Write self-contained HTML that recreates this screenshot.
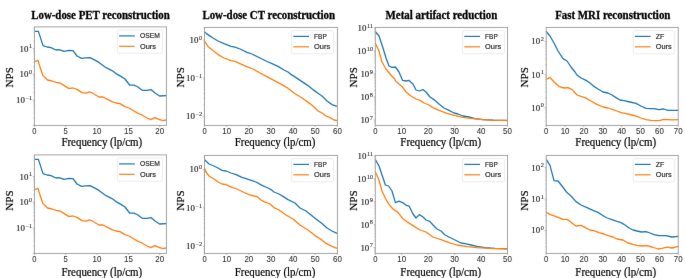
<!DOCTYPE html><html><head><meta charset="utf-8"><style>html,body{margin:0;padding:0;background:#fff;overflow:hidden}svg{display:block;will-change:transform}.ser{font-family:"Liberation Serif",serif}.san{font-family:"Liberation Sans",sans-serif}</style></head><body>
<svg width="685" height="278" viewBox="0 0 685 278">
<defs><filter id="soft" x="0" y="0" width="685" height="278" filterUnits="userSpaceOnUse" color-interpolation-filters="sRGB"><feConvolveMatrix order="3" kernelMatrix="0.00276 0.04704 0.00276 0.04704 0.80077 0.04704 0.00276 0.04704 0.00276" divisor="1" edgeMode="duplicate" preserveAlpha="true"/></filter></defs>
<rect width="685" height="278" fill="#fff"/>
<g filter="url(#soft)">
<rect width="685" height="278" fill="#fff"/>
<text class="ser" transform="translate(100.50,19.00) scale(0.9091,1)" font-size="11.99" text-anchor="middle" fill="#000" font-weight="bold" stroke="#000" stroke-width="0.3">Low-dose PET reconstruction</text>
<clipPath id="c00"><rect x="34.4" y="26.9" width="132.0" height="98.5"/></clipPath>
<g clip-path="url(#c00)">
<polyline points="34.4,31.4 38.4,31.4 43.0,45.6 47.0,47.0 51.0,47.6 56.0,50.0 59.0,49.6 64.0,51.4 69.0,50.4 73.0,50.6 77.0,56.0 81.6,58.4 86.0,57.8 90.0,57.6 94.0,59.6 99.0,62.4 105.0,67.0 108.0,68.6 112.0,70.6 116.0,73.6 121.0,76.4 125.0,79.0 129.6,85.0 134.0,85.2 138.0,87.0 142.4,90.4 147.0,90.4 151.0,89.6 155.0,93.0 159.6,96.0 166.0,95.6" fill="none" stroke="#1f77b4" stroke-width="1.3" stroke-linejoin="round" stroke-linecap="butt"/>
<polyline points="34.4,61.6 38.0,60.4 41.6,72.0 43.0,75.6 47.6,80.0 52.0,81.0 56.0,82.4 60.0,83.0 64.0,85.4 68.6,88.4 73.0,88.0 77.0,89.4 82.0,92.6 86.0,93.2 90.0,91.8 94.0,94.0 99.0,97.0 103.0,97.0 108.0,99.6 112.0,101.6 116.0,103.0 120.0,103.6 125.0,106.6 129.0,108.0 134.0,111.0 138.0,113.4 142.0,115.0 147.0,118.0 151.0,119.6 155.0,117.6 159.0,119.4 163.0,120.6 166.0,120.0" fill="none" stroke="#ff7f0e" stroke-width="1.3" stroke-linejoin="round" stroke-linecap="butt"/>
</g>
<rect x="34.4" y="26.9" width="132.0" height="98.5" fill="none" stroke="#9a9a9a" stroke-width="0.9"/>
<line x1="34.4" y1="125.4" x2="34.4" y2="127.0" stroke="#9a9a9a" stroke-width="0.7"/>
<text class="san" x="34.4" y="134.0" font-size="8.2" text-anchor="middle" fill="#2a2a2a" stroke="#2a2a2a" stroke-width="0.06" textLength="4.25" lengthAdjust="spacingAndGlyphs">0</text>
<line x1="65.7" y1="125.4" x2="65.7" y2="127.0" stroke="#9a9a9a" stroke-width="0.7"/>
<text class="san" x="65.7" y="134.0" font-size="8.2" text-anchor="middle" fill="#2a2a2a" stroke="#2a2a2a" stroke-width="0.06" textLength="4.25" lengthAdjust="spacingAndGlyphs">5</text>
<line x1="97.0" y1="125.4" x2="97.0" y2="127.0" stroke="#9a9a9a" stroke-width="0.7"/>
<text class="san" x="97.0" y="134.0" font-size="8.2" text-anchor="middle" fill="#2a2a2a" stroke="#2a2a2a" stroke-width="0.06" textLength="8.80" lengthAdjust="spacingAndGlyphs">10</text>
<line x1="128.4" y1="125.4" x2="128.4" y2="127.0" stroke="#9a9a9a" stroke-width="0.7"/>
<text class="san" x="128.4" y="134.0" font-size="8.2" text-anchor="middle" fill="#2a2a2a" stroke="#2a2a2a" stroke-width="0.06" textLength="8.80" lengthAdjust="spacingAndGlyphs">15</text>
<line x1="159.7" y1="125.4" x2="159.7" y2="127.0" stroke="#9a9a9a" stroke-width="0.7"/>
<text class="san" x="159.7" y="134.0" font-size="8.2" text-anchor="middle" fill="#2a2a2a" stroke="#2a2a2a" stroke-width="0.06" textLength="8.80" lengthAdjust="spacingAndGlyphs">20</text>
<line x1="32.8" y1="125.7" x2="34.4" y2="125.7" stroke="#9a9a9a" stroke-width="0.7"/>
<line x1="33.4" y1="118.0" x2="34.4" y2="118.0" stroke="#9a9a9a" stroke-width="0.5"/>
<line x1="33.4" y1="113.4" x2="34.4" y2="113.4" stroke="#9a9a9a" stroke-width="0.5"/>
<line x1="33.4" y1="110.2" x2="34.4" y2="110.2" stroke="#9a9a9a" stroke-width="0.5"/>
<line x1="33.4" y1="107.7" x2="34.4" y2="107.7" stroke="#9a9a9a" stroke-width="0.5"/>
<line x1="33.4" y1="105.7" x2="34.4" y2="105.7" stroke="#9a9a9a" stroke-width="0.5"/>
<line x1="33.4" y1="104.0" x2="34.4" y2="104.0" stroke="#9a9a9a" stroke-width="0.5"/>
<line x1="33.4" y1="102.5" x2="34.4" y2="102.5" stroke="#9a9a9a" stroke-width="0.5"/>
<line x1="33.4" y1="101.2" x2="34.4" y2="101.2" stroke="#9a9a9a" stroke-width="0.5"/>
<line x1="32.8" y1="100.0" x2="34.4" y2="100.0" stroke="#9a9a9a" stroke-width="0.7"/>
<line x1="33.4" y1="92.3" x2="34.4" y2="92.3" stroke="#9a9a9a" stroke-width="0.5"/>
<line x1="33.4" y1="87.7" x2="34.4" y2="87.7" stroke="#9a9a9a" stroke-width="0.5"/>
<line x1="33.4" y1="84.5" x2="34.4" y2="84.5" stroke="#9a9a9a" stroke-width="0.5"/>
<line x1="33.4" y1="82.0" x2="34.4" y2="82.0" stroke="#9a9a9a" stroke-width="0.5"/>
<line x1="33.4" y1="80.0" x2="34.4" y2="80.0" stroke="#9a9a9a" stroke-width="0.5"/>
<line x1="33.4" y1="78.3" x2="34.4" y2="78.3" stroke="#9a9a9a" stroke-width="0.5"/>
<line x1="33.4" y1="76.8" x2="34.4" y2="76.8" stroke="#9a9a9a" stroke-width="0.5"/>
<line x1="33.4" y1="75.5" x2="34.4" y2="75.5" stroke="#9a9a9a" stroke-width="0.5"/>
<line x1="32.8" y1="74.3" x2="34.4" y2="74.3" stroke="#9a9a9a" stroke-width="0.7"/>
<line x1="33.4" y1="66.6" x2="34.4" y2="66.6" stroke="#9a9a9a" stroke-width="0.5"/>
<line x1="33.4" y1="62.0" x2="34.4" y2="62.0" stroke="#9a9a9a" stroke-width="0.5"/>
<line x1="33.4" y1="58.8" x2="34.4" y2="58.8" stroke="#9a9a9a" stroke-width="0.5"/>
<line x1="33.4" y1="56.3" x2="34.4" y2="56.3" stroke="#9a9a9a" stroke-width="0.5"/>
<line x1="33.4" y1="54.3" x2="34.4" y2="54.3" stroke="#9a9a9a" stroke-width="0.5"/>
<line x1="33.4" y1="52.6" x2="34.4" y2="52.6" stroke="#9a9a9a" stroke-width="0.5"/>
<line x1="33.4" y1="51.1" x2="34.4" y2="51.1" stroke="#9a9a9a" stroke-width="0.5"/>
<line x1="33.4" y1="49.8" x2="34.4" y2="49.8" stroke="#9a9a9a" stroke-width="0.5"/>
<line x1="32.8" y1="48.6" x2="34.4" y2="48.6" stroke="#9a9a9a" stroke-width="0.7"/>
<line x1="33.4" y1="40.9" x2="34.4" y2="40.9" stroke="#9a9a9a" stroke-width="0.5"/>
<line x1="33.4" y1="36.3" x2="34.4" y2="36.3" stroke="#9a9a9a" stroke-width="0.5"/>
<line x1="33.4" y1="33.1" x2="34.4" y2="33.1" stroke="#9a9a9a" stroke-width="0.5"/>
<line x1="33.4" y1="30.6" x2="34.4" y2="30.6" stroke="#9a9a9a" stroke-width="0.5"/>
<line x1="33.4" y1="28.6" x2="34.4" y2="28.6" stroke="#9a9a9a" stroke-width="0.5"/>
<text class="ser" transform="translate(32.10,51.50) scale(1.08,1)" font-size="8.2" text-anchor="end" fill="#222" stroke="#222" stroke-width="0.15">10<tspan font-size="5.8" dx="0.6" dy="-3.2" stroke-width="0.08">1</tspan></text>
<text class="ser" transform="translate(32.10,77.20) scale(1.08,1)" font-size="8.2" text-anchor="end" fill="#222" stroke="#222" stroke-width="0.15">10<tspan font-size="5.8" dx="0.6" dy="-3.2" stroke-width="0.08">0</tspan></text>
<text class="ser" transform="translate(32.10,102.90) scale(1.08,1)" font-size="8.2" text-anchor="end" fill="#222" stroke="#222" stroke-width="0.15">10<tspan font-size="5.8" dx="0.6" dy="-3.2" stroke-width="0.08">−1</tspan></text>
<text class="ser" transform="translate(101.80,145.60) scale(0.9259,1)" font-size="11.77" text-anchor="middle" fill="#000" stroke="#000" stroke-width="0.2">Frequency (lp/cm)</text>
<text class="ser" transform="translate(12.9,77.3) rotate(-90)" x="0" y="0" font-size="11.1" text-anchor="middle" fill="#000" stroke="#000" stroke-width="0.2">NPS</text>
<rect x="117.4" y="30.1" width="45.1" height="23.2" rx="1.5" fill="#fff" fill-opacity="0.8" stroke="#e4e4e4" stroke-width="0.7"/>
<line x1="119.10000000000001" y1="35.9" x2="134.8" y2="35.9" stroke="#1f77b4" stroke-width="1.2"/>
<line x1="119.10000000000001" y1="46.3" x2="134.8" y2="46.3" stroke="#ff7f0e" stroke-width="1.2"/>
<text class="san" x="139.9" y="38.4" font-size="7.9" fill="#222" stroke="#222" stroke-width="0.18" textLength="19.9" lengthAdjust="spacingAndGlyphs">OSEM</text>
<text class="san" x="139.9" y="48.8" font-size="7.9" fill="#222" stroke="#222" stroke-width="0.18" textLength="16.0" lengthAdjust="spacingAndGlyphs">Ours</text>
<clipPath id="c10"><rect x="34.4" y="154.9" width="132.0" height="98.5"/></clipPath>
<g clip-path="url(#c10)">
<polyline points="34.4,159.4 38.4,159.4 43.0,173.6 47.0,175.0 51.0,175.6 56.0,178.0 59.0,177.6 64.0,179.4 69.0,178.4 73.0,178.6 77.0,184.0 81.6,186.4 86.0,185.8 90.0,185.6 94.0,187.6 99.0,190.4 105.0,195.0 108.0,196.6 112.0,198.6 116.0,201.6 121.0,204.4 125.0,207.0 129.6,213.0 134.0,213.2 138.0,215.0 142.4,218.4 147.0,218.4 151.0,217.6 155.0,221.0 159.6,224.0 166.0,223.6" fill="none" stroke="#1f77b4" stroke-width="1.3" stroke-linejoin="round" stroke-linecap="butt"/>
<polyline points="34.4,189.6 38.0,188.4 41.6,200.0 43.0,203.6 47.6,208.0 52.0,209.0 56.0,210.4 60.0,211.0 64.0,213.4 68.6,216.4 73.0,216.0 77.0,217.4 82.0,220.6 86.0,221.2 90.0,219.8 94.0,222.0 99.0,225.0 103.0,225.0 108.0,227.6 112.0,229.6 116.0,231.0 120.0,231.6 125.0,234.6 129.0,236.0 134.0,239.0 138.0,241.4 142.0,243.0 147.0,246.0 151.0,247.6 155.0,245.6 159.0,247.4 163.0,248.6 166.0,248.0" fill="none" stroke="#ff7f0e" stroke-width="1.3" stroke-linejoin="round" stroke-linecap="butt"/>
</g>
<rect x="34.4" y="154.9" width="132.0" height="98.5" fill="none" stroke="#9a9a9a" stroke-width="0.9"/>
<line x1="34.4" y1="253.4" x2="34.4" y2="255.0" stroke="#9a9a9a" stroke-width="0.7"/>
<text class="san" x="34.4" y="262.0" font-size="8.2" text-anchor="middle" fill="#2a2a2a" stroke="#2a2a2a" stroke-width="0.06" textLength="4.25" lengthAdjust="spacingAndGlyphs">0</text>
<line x1="65.7" y1="253.4" x2="65.7" y2="255.0" stroke="#9a9a9a" stroke-width="0.7"/>
<text class="san" x="65.7" y="262.0" font-size="8.2" text-anchor="middle" fill="#2a2a2a" stroke="#2a2a2a" stroke-width="0.06" textLength="4.25" lengthAdjust="spacingAndGlyphs">5</text>
<line x1="97.0" y1="253.4" x2="97.0" y2="255.0" stroke="#9a9a9a" stroke-width="0.7"/>
<text class="san" x="97.0" y="262.0" font-size="8.2" text-anchor="middle" fill="#2a2a2a" stroke="#2a2a2a" stroke-width="0.06" textLength="8.80" lengthAdjust="spacingAndGlyphs">10</text>
<line x1="128.4" y1="253.4" x2="128.4" y2="255.0" stroke="#9a9a9a" stroke-width="0.7"/>
<text class="san" x="128.4" y="262.0" font-size="8.2" text-anchor="middle" fill="#2a2a2a" stroke="#2a2a2a" stroke-width="0.06" textLength="8.80" lengthAdjust="spacingAndGlyphs">15</text>
<line x1="159.7" y1="253.4" x2="159.7" y2="255.0" stroke="#9a9a9a" stroke-width="0.7"/>
<text class="san" x="159.7" y="262.0" font-size="8.2" text-anchor="middle" fill="#2a2a2a" stroke="#2a2a2a" stroke-width="0.06" textLength="8.80" lengthAdjust="spacingAndGlyphs">20</text>
<line x1="32.8" y1="253.7" x2="34.4" y2="253.7" stroke="#9a9a9a" stroke-width="0.7"/>
<line x1="33.4" y1="246.0" x2="34.4" y2="246.0" stroke="#9a9a9a" stroke-width="0.5"/>
<line x1="33.4" y1="241.4" x2="34.4" y2="241.4" stroke="#9a9a9a" stroke-width="0.5"/>
<line x1="33.4" y1="238.2" x2="34.4" y2="238.2" stroke="#9a9a9a" stroke-width="0.5"/>
<line x1="33.4" y1="235.7" x2="34.4" y2="235.7" stroke="#9a9a9a" stroke-width="0.5"/>
<line x1="33.4" y1="233.7" x2="34.4" y2="233.7" stroke="#9a9a9a" stroke-width="0.5"/>
<line x1="33.4" y1="232.0" x2="34.4" y2="232.0" stroke="#9a9a9a" stroke-width="0.5"/>
<line x1="33.4" y1="230.5" x2="34.4" y2="230.5" stroke="#9a9a9a" stroke-width="0.5"/>
<line x1="33.4" y1="229.2" x2="34.4" y2="229.2" stroke="#9a9a9a" stroke-width="0.5"/>
<line x1="32.8" y1="228.0" x2="34.4" y2="228.0" stroke="#9a9a9a" stroke-width="0.7"/>
<line x1="33.4" y1="220.3" x2="34.4" y2="220.3" stroke="#9a9a9a" stroke-width="0.5"/>
<line x1="33.4" y1="215.7" x2="34.4" y2="215.7" stroke="#9a9a9a" stroke-width="0.5"/>
<line x1="33.4" y1="212.5" x2="34.4" y2="212.5" stroke="#9a9a9a" stroke-width="0.5"/>
<line x1="33.4" y1="210.0" x2="34.4" y2="210.0" stroke="#9a9a9a" stroke-width="0.5"/>
<line x1="33.4" y1="208.0" x2="34.4" y2="208.0" stroke="#9a9a9a" stroke-width="0.5"/>
<line x1="33.4" y1="206.3" x2="34.4" y2="206.3" stroke="#9a9a9a" stroke-width="0.5"/>
<line x1="33.4" y1="204.8" x2="34.4" y2="204.8" stroke="#9a9a9a" stroke-width="0.5"/>
<line x1="33.4" y1="203.5" x2="34.4" y2="203.5" stroke="#9a9a9a" stroke-width="0.5"/>
<line x1="32.8" y1="202.3" x2="34.4" y2="202.3" stroke="#9a9a9a" stroke-width="0.7"/>
<line x1="33.4" y1="194.6" x2="34.4" y2="194.6" stroke="#9a9a9a" stroke-width="0.5"/>
<line x1="33.4" y1="190.0" x2="34.4" y2="190.0" stroke="#9a9a9a" stroke-width="0.5"/>
<line x1="33.4" y1="186.8" x2="34.4" y2="186.8" stroke="#9a9a9a" stroke-width="0.5"/>
<line x1="33.4" y1="184.3" x2="34.4" y2="184.3" stroke="#9a9a9a" stroke-width="0.5"/>
<line x1="33.4" y1="182.3" x2="34.4" y2="182.3" stroke="#9a9a9a" stroke-width="0.5"/>
<line x1="33.4" y1="180.6" x2="34.4" y2="180.6" stroke="#9a9a9a" stroke-width="0.5"/>
<line x1="33.4" y1="179.1" x2="34.4" y2="179.1" stroke="#9a9a9a" stroke-width="0.5"/>
<line x1="33.4" y1="177.8" x2="34.4" y2="177.8" stroke="#9a9a9a" stroke-width="0.5"/>
<line x1="32.8" y1="176.6" x2="34.4" y2="176.6" stroke="#9a9a9a" stroke-width="0.7"/>
<line x1="33.4" y1="168.9" x2="34.4" y2="168.9" stroke="#9a9a9a" stroke-width="0.5"/>
<line x1="33.4" y1="164.3" x2="34.4" y2="164.3" stroke="#9a9a9a" stroke-width="0.5"/>
<line x1="33.4" y1="161.1" x2="34.4" y2="161.1" stroke="#9a9a9a" stroke-width="0.5"/>
<line x1="33.4" y1="158.6" x2="34.4" y2="158.6" stroke="#9a9a9a" stroke-width="0.5"/>
<line x1="33.4" y1="156.6" x2="34.4" y2="156.6" stroke="#9a9a9a" stroke-width="0.5"/>
<text class="ser" transform="translate(32.10,179.50) scale(1.08,1)" font-size="8.2" text-anchor="end" fill="#222" stroke="#222" stroke-width="0.15">10<tspan font-size="5.8" dx="0.6" dy="-3.2" stroke-width="0.08">1</tspan></text>
<text class="ser" transform="translate(32.10,205.20) scale(1.08,1)" font-size="8.2" text-anchor="end" fill="#222" stroke="#222" stroke-width="0.15">10<tspan font-size="5.8" dx="0.6" dy="-3.2" stroke-width="0.08">0</tspan></text>
<text class="ser" transform="translate(32.10,230.90) scale(1.08,1)" font-size="8.2" text-anchor="end" fill="#222" stroke="#222" stroke-width="0.15">10<tspan font-size="5.8" dx="0.6" dy="-3.2" stroke-width="0.08">−1</tspan></text>
<text class="ser" transform="translate(101.80,275.70) scale(0.9259,1)" font-size="11.77" text-anchor="middle" fill="#000" stroke="#000" stroke-width="0.2">Frequency (lp/cm)</text>
<text class="ser" transform="translate(12.9,200.5) rotate(-90)" x="0" y="0" font-size="11.1" text-anchor="middle" fill="#000" stroke="#000" stroke-width="0.2">NPS</text>
<rect x="117.4" y="158.1" width="45.1" height="23.2" rx="1.5" fill="#fff" fill-opacity="0.8" stroke="#e4e4e4" stroke-width="0.7"/>
<line x1="119.10000000000001" y1="163.9" x2="134.8" y2="163.9" stroke="#1f77b4" stroke-width="1.2"/>
<line x1="119.10000000000001" y1="174.3" x2="134.8" y2="174.3" stroke="#ff7f0e" stroke-width="1.2"/>
<text class="san" x="139.9" y="166.4" font-size="7.9" fill="#222" stroke="#222" stroke-width="0.18" textLength="19.9" lengthAdjust="spacingAndGlyphs">OSEM</text>
<text class="san" x="139.9" y="176.8" font-size="7.9" fill="#222" stroke="#222" stroke-width="0.18" textLength="16.0" lengthAdjust="spacingAndGlyphs">Ours</text>
<text class="ser" transform="translate(268.70,19.00) scale(0.9091,1)" font-size="11.99" text-anchor="middle" fill="#000" font-weight="bold" stroke="#000" stroke-width="0.3">Low-dose CT reconstruction</text>
<clipPath id="c01"><rect x="204.5" y="27.4" width="132.9" height="98.0"/></clipPath>
<g clip-path="url(#c01)">
<polyline points="204.4,31.6 206.5,33.6 209.0,35.4 213.0,38.0 218.0,41.0 224.0,43.6 231.0,46.4 235.0,47.1 240.0,49.0 247.0,52.3 252.0,54.0 260.0,58.0 266.0,61.0 272.0,63.6 278.0,66.4 284.0,70.0 288.0,72.0 291.0,74.4 296.0,77.6 302.0,81.6 308.0,85.6 314.0,90.4 319.0,94.0 322.0,96.0 327.0,101.0 332.0,104.6 337.0,106.4" fill="none" stroke="#1f77b4" stroke-width="1.3" stroke-linejoin="round" stroke-linecap="butt"/>
<polyline points="204.4,41.0 208.0,46.4 213.0,50.6 218.0,54.6 224.0,58.0 231.0,60.6 235.0,61.4 240.0,63.6 246.0,66.4 253.0,69.0 260.0,73.0 265.0,75.6 272.0,79.4 280.0,83.6 287.0,87.6 294.0,93.0 302.0,98.0 310.0,103.6 314.0,107.0 318.0,111.0 322.0,113.0 326.0,116.0 330.0,117.6 334.0,120.0 337.0,120.6" fill="none" stroke="#ff7f0e" stroke-width="1.3" stroke-linejoin="round" stroke-linecap="butt"/>
</g>
<rect x="204.5" y="27.4" width="132.9" height="98.0" fill="none" stroke="#9a9a9a" stroke-width="0.9"/>
<line x1="204.5" y1="125.4" x2="204.5" y2="127.0" stroke="#9a9a9a" stroke-width="0.7"/>
<text class="san" x="204.5" y="134.0" font-size="8.2" text-anchor="middle" fill="#2a2a2a" stroke="#2a2a2a" stroke-width="0.06" textLength="4.25" lengthAdjust="spacingAndGlyphs">0</text>
<line x1="226.7" y1="125.4" x2="226.7" y2="127.0" stroke="#9a9a9a" stroke-width="0.7"/>
<text class="san" x="226.7" y="134.0" font-size="8.2" text-anchor="middle" fill="#2a2a2a" stroke="#2a2a2a" stroke-width="0.06" textLength="8.80" lengthAdjust="spacingAndGlyphs">10</text>
<line x1="248.8" y1="125.4" x2="248.8" y2="127.0" stroke="#9a9a9a" stroke-width="0.7"/>
<text class="san" x="248.8" y="134.0" font-size="8.2" text-anchor="middle" fill="#2a2a2a" stroke="#2a2a2a" stroke-width="0.06" textLength="8.80" lengthAdjust="spacingAndGlyphs">20</text>
<line x1="270.9" y1="125.4" x2="270.9" y2="127.0" stroke="#9a9a9a" stroke-width="0.7"/>
<text class="san" x="270.9" y="134.0" font-size="8.2" text-anchor="middle" fill="#2a2a2a" stroke="#2a2a2a" stroke-width="0.06" textLength="8.80" lengthAdjust="spacingAndGlyphs">30</text>
<line x1="293.1" y1="125.4" x2="293.1" y2="127.0" stroke="#9a9a9a" stroke-width="0.7"/>
<text class="san" x="293.1" y="134.0" font-size="8.2" text-anchor="middle" fill="#2a2a2a" stroke="#2a2a2a" stroke-width="0.06" textLength="8.80" lengthAdjust="spacingAndGlyphs">40</text>
<line x1="315.2" y1="125.4" x2="315.2" y2="127.0" stroke="#9a9a9a" stroke-width="0.7"/>
<text class="san" x="315.2" y="134.0" font-size="8.2" text-anchor="middle" fill="#2a2a2a" stroke="#2a2a2a" stroke-width="0.06" textLength="8.80" lengthAdjust="spacingAndGlyphs">50</text>
<line x1="337.4" y1="125.4" x2="337.4" y2="127.0" stroke="#9a9a9a" stroke-width="0.7"/>
<text class="san" x="337.4" y="134.0" font-size="8.2" text-anchor="middle" fill="#2a2a2a" stroke="#2a2a2a" stroke-width="0.06" textLength="8.80" lengthAdjust="spacingAndGlyphs">60</text>
<line x1="203.5" y1="124.6" x2="204.5" y2="124.6" stroke="#9a9a9a" stroke-width="0.5"/>
<line x1="203.5" y1="122.1" x2="204.5" y2="122.1" stroke="#9a9a9a" stroke-width="0.5"/>
<line x1="203.5" y1="119.9" x2="204.5" y2="119.9" stroke="#9a9a9a" stroke-width="0.5"/>
<line x1="203.5" y1="117.9" x2="204.5" y2="117.9" stroke="#9a9a9a" stroke-width="0.5"/>
<line x1="202.9" y1="116.2" x2="204.5" y2="116.2" stroke="#9a9a9a" stroke-width="0.7"/>
<line x1="203.5" y1="104.7" x2="204.5" y2="104.7" stroke="#9a9a9a" stroke-width="0.5"/>
<line x1="203.5" y1="98.0" x2="204.5" y2="98.0" stroke="#9a9a9a" stroke-width="0.5"/>
<line x1="203.5" y1="93.3" x2="204.5" y2="93.3" stroke="#9a9a9a" stroke-width="0.5"/>
<line x1="203.5" y1="89.6" x2="204.5" y2="89.6" stroke="#9a9a9a" stroke-width="0.5"/>
<line x1="203.5" y1="86.6" x2="204.5" y2="86.6" stroke="#9a9a9a" stroke-width="0.5"/>
<line x1="203.5" y1="84.0" x2="204.5" y2="84.0" stroke="#9a9a9a" stroke-width="0.5"/>
<line x1="203.5" y1="81.8" x2="204.5" y2="81.8" stroke="#9a9a9a" stroke-width="0.5"/>
<line x1="203.5" y1="79.9" x2="204.5" y2="79.9" stroke="#9a9a9a" stroke-width="0.5"/>
<line x1="202.9" y1="78.2" x2="204.5" y2="78.2" stroke="#9a9a9a" stroke-width="0.7"/>
<line x1="203.5" y1="66.7" x2="204.5" y2="66.7" stroke="#9a9a9a" stroke-width="0.5"/>
<line x1="203.5" y1="60.0" x2="204.5" y2="60.0" stroke="#9a9a9a" stroke-width="0.5"/>
<line x1="203.5" y1="55.2" x2="204.5" y2="55.2" stroke="#9a9a9a" stroke-width="0.5"/>
<line x1="203.5" y1="51.6" x2="204.5" y2="51.6" stroke="#9a9a9a" stroke-width="0.5"/>
<line x1="203.5" y1="48.5" x2="204.5" y2="48.5" stroke="#9a9a9a" stroke-width="0.5"/>
<line x1="203.5" y1="46.0" x2="204.5" y2="46.0" stroke="#9a9a9a" stroke-width="0.5"/>
<line x1="203.5" y1="43.8" x2="204.5" y2="43.8" stroke="#9a9a9a" stroke-width="0.5"/>
<line x1="203.5" y1="41.8" x2="204.5" y2="41.8" stroke="#9a9a9a" stroke-width="0.5"/>
<line x1="202.9" y1="40.1" x2="204.5" y2="40.1" stroke="#9a9a9a" stroke-width="0.7"/>
<line x1="203.5" y1="28.6" x2="204.5" y2="28.6" stroke="#9a9a9a" stroke-width="0.5"/>
<text class="ser" transform="translate(202.20,43.00) scale(1.08,1)" font-size="8.2" text-anchor="end" fill="#222" stroke="#222" stroke-width="0.15">10<tspan font-size="5.8" dx="0.6" dy="-3.2" stroke-width="0.08">0</tspan></text>
<text class="ser" transform="translate(202.20,81.05) scale(1.08,1)" font-size="8.2" text-anchor="end" fill="#222" stroke="#222" stroke-width="0.15">10<tspan font-size="5.8" dx="0.6" dy="-3.2" stroke-width="0.08">−1</tspan></text>
<text class="ser" transform="translate(202.20,119.10) scale(1.08,1)" font-size="8.2" text-anchor="end" fill="#222" stroke="#222" stroke-width="0.15">10<tspan font-size="5.8" dx="0.6" dy="-3.2" stroke-width="0.08">−2</tspan></text>
<text class="ser" transform="translate(275.10,145.60) scale(0.9259,1)" font-size="11.77" text-anchor="middle" fill="#000" stroke="#000" stroke-width="0.2">Frequency (lp/cm)</text>
<text class="ser" transform="translate(183.8,77.3) rotate(-90)" x="0" y="0" font-size="11.1" text-anchor="middle" fill="#000" stroke="#000" stroke-width="0.2">NPS</text>
<rect x="291.6" y="30.6" width="41.8" height="23.2" rx="1.5" fill="#fff" fill-opacity="0.8" stroke="#e4e4e4" stroke-width="0.7"/>
<line x1="293.3" y1="36.4" x2="309.0" y2="36.4" stroke="#1f77b4" stroke-width="1.2"/>
<line x1="293.3" y1="46.8" x2="309.0" y2="46.8" stroke="#ff7f0e" stroke-width="1.2"/>
<text class="san" x="314.1" y="38.9" font-size="7.9" fill="#222" stroke="#222" stroke-width="0.18" textLength="12.7" lengthAdjust="spacingAndGlyphs">FBP</text>
<text class="san" x="314.1" y="49.3" font-size="7.9" fill="#222" stroke="#222" stroke-width="0.18" textLength="16.0" lengthAdjust="spacingAndGlyphs">Ours</text>
<clipPath id="c11"><rect x="204.5" y="155.4" width="132.9" height="98.0"/></clipPath>
<g clip-path="url(#c11)">
<polyline points="204.4,159.4 209.0,164.0 214.0,166.0 218.0,168.0 222.0,170.4 226.0,171.0 231.0,173.0 236.0,174.6 242.0,177.4 249.0,179.6 256.0,182.0 262.0,185.4 268.0,188.0 271.0,189.6 274.0,192.0 279.0,194.0 283.0,196.4 288.0,199.6 295.0,203.0 300.0,208.0 306.0,211.0 311.0,215.0 316.0,219.0 322.0,223.6 327.0,228.0 332.0,231.0 337.0,233.4" fill="none" stroke="#1f77b4" stroke-width="1.3" stroke-linejoin="round" stroke-linecap="butt"/>
<polyline points="204.4,168.0 206.0,172.0 209.0,176.0 214.0,179.0 218.0,182.0 222.0,184.0 226.0,184.6 232.0,187.4 237.0,189.0 243.0,192.0 249.0,194.6 254.0,196.0 257.0,196.6 261.0,200.0 264.0,201.6 270.0,204.0 274.0,207.6 279.0,210.0 286.0,215.0 293.0,219.0 300.0,225.0 308.0,230.0 315.0,235.6 322.0,240.0 326.0,243.4 332.0,246.4 337.0,248.4" fill="none" stroke="#ff7f0e" stroke-width="1.3" stroke-linejoin="round" stroke-linecap="butt"/>
</g>
<rect x="204.5" y="155.4" width="132.9" height="98.0" fill="none" stroke="#9a9a9a" stroke-width="0.9"/>
<line x1="204.5" y1="253.4" x2="204.5" y2="255.0" stroke="#9a9a9a" stroke-width="0.7"/>
<text class="san" x="204.5" y="262.0" font-size="8.2" text-anchor="middle" fill="#2a2a2a" stroke="#2a2a2a" stroke-width="0.06" textLength="4.25" lengthAdjust="spacingAndGlyphs">0</text>
<line x1="226.7" y1="253.4" x2="226.7" y2="255.0" stroke="#9a9a9a" stroke-width="0.7"/>
<text class="san" x="226.7" y="262.0" font-size="8.2" text-anchor="middle" fill="#2a2a2a" stroke="#2a2a2a" stroke-width="0.06" textLength="8.80" lengthAdjust="spacingAndGlyphs">10</text>
<line x1="248.8" y1="253.4" x2="248.8" y2="255.0" stroke="#9a9a9a" stroke-width="0.7"/>
<text class="san" x="248.8" y="262.0" font-size="8.2" text-anchor="middle" fill="#2a2a2a" stroke="#2a2a2a" stroke-width="0.06" textLength="8.80" lengthAdjust="spacingAndGlyphs">20</text>
<line x1="270.9" y1="253.4" x2="270.9" y2="255.0" stroke="#9a9a9a" stroke-width="0.7"/>
<text class="san" x="270.9" y="262.0" font-size="8.2" text-anchor="middle" fill="#2a2a2a" stroke="#2a2a2a" stroke-width="0.06" textLength="8.80" lengthAdjust="spacingAndGlyphs">30</text>
<line x1="293.1" y1="253.4" x2="293.1" y2="255.0" stroke="#9a9a9a" stroke-width="0.7"/>
<text class="san" x="293.1" y="262.0" font-size="8.2" text-anchor="middle" fill="#2a2a2a" stroke="#2a2a2a" stroke-width="0.06" textLength="8.80" lengthAdjust="spacingAndGlyphs">40</text>
<line x1="315.2" y1="253.4" x2="315.2" y2="255.0" stroke="#9a9a9a" stroke-width="0.7"/>
<text class="san" x="315.2" y="262.0" font-size="8.2" text-anchor="middle" fill="#2a2a2a" stroke="#2a2a2a" stroke-width="0.06" textLength="8.80" lengthAdjust="spacingAndGlyphs">50</text>
<line x1="337.4" y1="253.4" x2="337.4" y2="255.0" stroke="#9a9a9a" stroke-width="0.7"/>
<text class="san" x="337.4" y="262.0" font-size="8.2" text-anchor="middle" fill="#2a2a2a" stroke="#2a2a2a" stroke-width="0.06" textLength="8.80" lengthAdjust="spacingAndGlyphs">60</text>
<line x1="203.5" y1="252.4" x2="204.5" y2="252.4" stroke="#9a9a9a" stroke-width="0.5"/>
<line x1="203.5" y1="250.1" x2="204.5" y2="250.1" stroke="#9a9a9a" stroke-width="0.5"/>
<line x1="203.5" y1="248.2" x2="204.5" y2="248.2" stroke="#9a9a9a" stroke-width="0.5"/>
<line x1="202.9" y1="246.4" x2="204.5" y2="246.4" stroke="#9a9a9a" stroke-width="0.7"/>
<line x1="203.5" y1="234.8" x2="204.5" y2="234.8" stroke="#9a9a9a" stroke-width="0.5"/>
<line x1="203.5" y1="228.0" x2="204.5" y2="228.0" stroke="#9a9a9a" stroke-width="0.5"/>
<line x1="203.5" y1="223.2" x2="204.5" y2="223.2" stroke="#9a9a9a" stroke-width="0.5"/>
<line x1="203.5" y1="219.5" x2="204.5" y2="219.5" stroke="#9a9a9a" stroke-width="0.5"/>
<line x1="203.5" y1="216.4" x2="204.5" y2="216.4" stroke="#9a9a9a" stroke-width="0.5"/>
<line x1="203.5" y1="213.9" x2="204.5" y2="213.9" stroke="#9a9a9a" stroke-width="0.5"/>
<line x1="203.5" y1="211.6" x2="204.5" y2="211.6" stroke="#9a9a9a" stroke-width="0.5"/>
<line x1="203.5" y1="209.7" x2="204.5" y2="209.7" stroke="#9a9a9a" stroke-width="0.5"/>
<line x1="202.9" y1="207.9" x2="204.5" y2="207.9" stroke="#9a9a9a" stroke-width="0.7"/>
<line x1="203.5" y1="196.3" x2="204.5" y2="196.3" stroke="#9a9a9a" stroke-width="0.5"/>
<line x1="203.5" y1="189.5" x2="204.5" y2="189.5" stroke="#9a9a9a" stroke-width="0.5"/>
<line x1="203.5" y1="184.7" x2="204.5" y2="184.7" stroke="#9a9a9a" stroke-width="0.5"/>
<line x1="203.5" y1="181.0" x2="204.5" y2="181.0" stroke="#9a9a9a" stroke-width="0.5"/>
<line x1="203.5" y1="177.9" x2="204.5" y2="177.9" stroke="#9a9a9a" stroke-width="0.5"/>
<line x1="203.5" y1="175.4" x2="204.5" y2="175.4" stroke="#9a9a9a" stroke-width="0.5"/>
<line x1="203.5" y1="173.1" x2="204.5" y2="173.1" stroke="#9a9a9a" stroke-width="0.5"/>
<line x1="203.5" y1="171.2" x2="204.5" y2="171.2" stroke="#9a9a9a" stroke-width="0.5"/>
<line x1="202.9" y1="169.4" x2="204.5" y2="169.4" stroke="#9a9a9a" stroke-width="0.7"/>
<line x1="203.5" y1="157.8" x2="204.5" y2="157.8" stroke="#9a9a9a" stroke-width="0.5"/>
<text class="ser" transform="translate(202.20,172.30) scale(1.08,1)" font-size="8.2" text-anchor="end" fill="#222" stroke="#222" stroke-width="0.15">10<tspan font-size="5.8" dx="0.6" dy="-3.2" stroke-width="0.08">0</tspan></text>
<text class="ser" transform="translate(202.20,210.80) scale(1.08,1)" font-size="8.2" text-anchor="end" fill="#222" stroke="#222" stroke-width="0.15">10<tspan font-size="5.8" dx="0.6" dy="-3.2" stroke-width="0.08">−1</tspan></text>
<text class="ser" transform="translate(202.20,249.30) scale(1.08,1)" font-size="8.2" text-anchor="end" fill="#222" stroke="#222" stroke-width="0.15">10<tspan font-size="5.8" dx="0.6" dy="-3.2" stroke-width="0.08">−2</tspan></text>
<text class="ser" transform="translate(275.10,275.70) scale(0.9259,1)" font-size="11.77" text-anchor="middle" fill="#000" stroke="#000" stroke-width="0.2">Frequency (lp/cm)</text>
<text class="ser" transform="translate(183.8,200.5) rotate(-90)" x="0" y="0" font-size="11.1" text-anchor="middle" fill="#000" stroke="#000" stroke-width="0.2">NPS</text>
<rect x="291.6" y="158.6" width="41.8" height="23.2" rx="1.5" fill="#fff" fill-opacity="0.8" stroke="#e4e4e4" stroke-width="0.7"/>
<line x1="293.3" y1="164.4" x2="309.0" y2="164.4" stroke="#1f77b4" stroke-width="1.2"/>
<line x1="293.3" y1="174.8" x2="309.0" y2="174.8" stroke="#ff7f0e" stroke-width="1.2"/>
<text class="san" x="314.1" y="166.9" font-size="7.9" fill="#222" stroke="#222" stroke-width="0.18" textLength="12.7" lengthAdjust="spacingAndGlyphs">FBP</text>
<text class="san" x="314.1" y="177.3" font-size="7.9" fill="#222" stroke="#222" stroke-width="0.18" textLength="16.0" lengthAdjust="spacingAndGlyphs">Ours</text>
<text class="ser" transform="translate(441.40,19.00) scale(0.9091,1)" font-size="11.99" text-anchor="middle" fill="#000" font-weight="bold" stroke="#000" stroke-width="0.3">Metal artifact reduction</text>
<clipPath id="c02"><rect x="375.3" y="27.4" width="132.2" height="98.0"/></clipPath>
<g clip-path="url(#c02)">
<polyline points="375.2,31.4 379.0,36.0 383.0,48.0 386.0,58.0 389.0,66.0 392.0,67.4 395.4,67.0 399.0,72.0 402.6,80.4 406.0,81.0 409.0,80.4 413.0,84.0 416.0,90.0 419.4,91.0 423.0,89.6 426.0,92.0 430.0,97.0 434.0,99.6 439.0,104.0 444.0,108.0 449.0,110.4 454.0,113.0 458.0,114.0 463.0,116.0 469.0,117.0 475.0,118.6 483.0,119.6 493.0,120.2 508.0,120.4" fill="none" stroke="#1f77b4" stroke-width="1.3" stroke-linejoin="round" stroke-linecap="butt"/>
<polyline points="375.2,43.2 378.6,50.0 382.0,62.0 386.0,69.0 390.0,74.0 394.6,79.0 396.0,81.6 402.0,86.4 406.0,92.0 411.0,96.0 416.0,99.0 420.0,100.4 424.0,103.0 429.0,105.0 433.0,107.6 439.0,110.4 447.0,113.4 455.0,115.6 463.0,117.4 473.0,118.6 483.0,119.6 493.0,120.2 508.0,120.6" fill="none" stroke="#ff7f0e" stroke-width="1.3" stroke-linejoin="round" stroke-linecap="butt"/>
</g>
<rect x="375.3" y="27.4" width="132.2" height="98.0" fill="none" stroke="#9a9a9a" stroke-width="0.9"/>
<line x1="375.3" y1="125.4" x2="375.3" y2="127.0" stroke="#9a9a9a" stroke-width="0.7"/>
<text class="san" x="375.3" y="134.0" font-size="8.2" text-anchor="middle" fill="#2a2a2a" stroke="#2a2a2a" stroke-width="0.06" textLength="4.25" lengthAdjust="spacingAndGlyphs">0</text>
<line x1="401.7" y1="125.4" x2="401.7" y2="127.0" stroke="#9a9a9a" stroke-width="0.7"/>
<text class="san" x="401.7" y="134.0" font-size="8.2" text-anchor="middle" fill="#2a2a2a" stroke="#2a2a2a" stroke-width="0.06" textLength="8.80" lengthAdjust="spacingAndGlyphs">10</text>
<line x1="428.2" y1="125.4" x2="428.2" y2="127.0" stroke="#9a9a9a" stroke-width="0.7"/>
<text class="san" x="428.2" y="134.0" font-size="8.2" text-anchor="middle" fill="#2a2a2a" stroke="#2a2a2a" stroke-width="0.06" textLength="8.80" lengthAdjust="spacingAndGlyphs">20</text>
<line x1="454.6" y1="125.4" x2="454.6" y2="127.0" stroke="#9a9a9a" stroke-width="0.7"/>
<text class="san" x="454.6" y="134.0" font-size="8.2" text-anchor="middle" fill="#2a2a2a" stroke="#2a2a2a" stroke-width="0.06" textLength="8.80" lengthAdjust="spacingAndGlyphs">30</text>
<line x1="481.1" y1="125.4" x2="481.1" y2="127.0" stroke="#9a9a9a" stroke-width="0.7"/>
<text class="san" x="481.1" y="134.0" font-size="8.2" text-anchor="middle" fill="#2a2a2a" stroke="#2a2a2a" stroke-width="0.06" textLength="8.80" lengthAdjust="spacingAndGlyphs">40</text>
<line x1="507.5" y1="125.4" x2="507.5" y2="127.0" stroke="#9a9a9a" stroke-width="0.7"/>
<text class="san" x="507.5" y="134.0" font-size="8.2" text-anchor="middle" fill="#2a2a2a" stroke="#2a2a2a" stroke-width="0.06" textLength="8.80" lengthAdjust="spacingAndGlyphs">50</text>
<line x1="374.3" y1="123.7" x2="375.3" y2="123.7" stroke="#9a9a9a" stroke-width="0.5"/>
<line x1="374.3" y1="122.3" x2="375.3" y2="122.3" stroke="#9a9a9a" stroke-width="0.5"/>
<line x1="374.3" y1="121.1" x2="375.3" y2="121.1" stroke="#9a9a9a" stroke-width="0.5"/>
<line x1="373.7" y1="120.1" x2="375.3" y2="120.1" stroke="#9a9a9a" stroke-width="0.7"/>
<line x1="374.3" y1="113.1" x2="375.3" y2="113.1" stroke="#9a9a9a" stroke-width="0.5"/>
<line x1="374.3" y1="109.1" x2="375.3" y2="109.1" stroke="#9a9a9a" stroke-width="0.5"/>
<line x1="374.3" y1="106.2" x2="375.3" y2="106.2" stroke="#9a9a9a" stroke-width="0.5"/>
<line x1="374.3" y1="104.0" x2="375.3" y2="104.0" stroke="#9a9a9a" stroke-width="0.5"/>
<line x1="374.3" y1="102.1" x2="375.3" y2="102.1" stroke="#9a9a9a" stroke-width="0.5"/>
<line x1="374.3" y1="100.6" x2="375.3" y2="100.6" stroke="#9a9a9a" stroke-width="0.5"/>
<line x1="374.3" y1="99.2" x2="375.3" y2="99.2" stroke="#9a9a9a" stroke-width="0.5"/>
<line x1="374.3" y1="98.1" x2="375.3" y2="98.1" stroke="#9a9a9a" stroke-width="0.5"/>
<line x1="373.7" y1="97.0" x2="375.3" y2="97.0" stroke="#9a9a9a" stroke-width="0.7"/>
<line x1="374.3" y1="90.1" x2="375.3" y2="90.1" stroke="#9a9a9a" stroke-width="0.5"/>
<line x1="374.3" y1="86.0" x2="375.3" y2="86.0" stroke="#9a9a9a" stroke-width="0.5"/>
<line x1="374.3" y1="83.1" x2="375.3" y2="83.1" stroke="#9a9a9a" stroke-width="0.5"/>
<line x1="374.3" y1="80.9" x2="375.3" y2="80.9" stroke="#9a9a9a" stroke-width="0.5"/>
<line x1="374.3" y1="79.1" x2="375.3" y2="79.1" stroke="#9a9a9a" stroke-width="0.5"/>
<line x1="374.3" y1="77.5" x2="375.3" y2="77.5" stroke="#9a9a9a" stroke-width="0.5"/>
<line x1="374.3" y1="76.2" x2="375.3" y2="76.2" stroke="#9a9a9a" stroke-width="0.5"/>
<line x1="374.3" y1="75.0" x2="375.3" y2="75.0" stroke="#9a9a9a" stroke-width="0.5"/>
<line x1="373.7" y1="73.9" x2="375.3" y2="73.9" stroke="#9a9a9a" stroke-width="0.7"/>
<line x1="374.3" y1="67.0" x2="375.3" y2="67.0" stroke="#9a9a9a" stroke-width="0.5"/>
<line x1="374.3" y1="62.9" x2="375.3" y2="62.9" stroke="#9a9a9a" stroke-width="0.5"/>
<line x1="374.3" y1="60.1" x2="375.3" y2="60.1" stroke="#9a9a9a" stroke-width="0.5"/>
<line x1="374.3" y1="57.8" x2="375.3" y2="57.8" stroke="#9a9a9a" stroke-width="0.5"/>
<line x1="374.3" y1="56.0" x2="375.3" y2="56.0" stroke="#9a9a9a" stroke-width="0.5"/>
<line x1="374.3" y1="54.4" x2="375.3" y2="54.4" stroke="#9a9a9a" stroke-width="0.5"/>
<line x1="374.3" y1="53.1" x2="375.3" y2="53.1" stroke="#9a9a9a" stroke-width="0.5"/>
<line x1="374.3" y1="51.9" x2="375.3" y2="51.9" stroke="#9a9a9a" stroke-width="0.5"/>
<line x1="373.7" y1="50.9" x2="375.3" y2="50.9" stroke="#9a9a9a" stroke-width="0.7"/>
<line x1="374.3" y1="43.9" x2="375.3" y2="43.9" stroke="#9a9a9a" stroke-width="0.5"/>
<line x1="374.3" y1="39.9" x2="375.3" y2="39.9" stroke="#9a9a9a" stroke-width="0.5"/>
<line x1="374.3" y1="37.0" x2="375.3" y2="37.0" stroke="#9a9a9a" stroke-width="0.5"/>
<line x1="374.3" y1="34.7" x2="375.3" y2="34.7" stroke="#9a9a9a" stroke-width="0.5"/>
<line x1="374.3" y1="32.9" x2="375.3" y2="32.9" stroke="#9a9a9a" stroke-width="0.5"/>
<line x1="374.3" y1="31.4" x2="375.3" y2="31.4" stroke="#9a9a9a" stroke-width="0.5"/>
<line x1="374.3" y1="30.0" x2="375.3" y2="30.0" stroke="#9a9a9a" stroke-width="0.5"/>
<line x1="374.3" y1="28.9" x2="375.3" y2="28.9" stroke="#9a9a9a" stroke-width="0.5"/>
<line x1="373.7" y1="27.8" x2="375.3" y2="27.8" stroke="#9a9a9a" stroke-width="0.7"/>
<text class="ser" transform="translate(373.00,30.70) scale(1.08,1)" font-size="8.2" text-anchor="end" fill="#222" stroke="#222" stroke-width="0.15">10<tspan font-size="5.8" dx="0.6" dy="-3.2" stroke-width="0.08">11</tspan></text>
<text class="ser" transform="translate(373.00,53.77) scale(1.08,1)" font-size="8.2" text-anchor="end" fill="#222" stroke="#222" stroke-width="0.15">10<tspan font-size="5.8" dx="0.6" dy="-3.2" stroke-width="0.08">10</tspan></text>
<text class="ser" transform="translate(373.00,76.84) scale(1.08,1)" font-size="8.2" text-anchor="end" fill="#222" stroke="#222" stroke-width="0.15">10<tspan font-size="5.8" dx="0.6" dy="-3.2" stroke-width="0.08">9</tspan></text>
<text class="ser" transform="translate(373.00,99.91) scale(1.08,1)" font-size="8.2" text-anchor="end" fill="#222" stroke="#222" stroke-width="0.15">10<tspan font-size="5.8" dx="0.6" dy="-3.2" stroke-width="0.08">8</tspan></text>
<text class="ser" transform="translate(373.00,122.98) scale(1.08,1)" font-size="8.2" text-anchor="end" fill="#222" stroke="#222" stroke-width="0.15">10<tspan font-size="5.8" dx="0.6" dy="-3.2" stroke-width="0.08">7</tspan></text>
<text class="ser" transform="translate(440.70,145.60) scale(0.9259,1)" font-size="11.77" text-anchor="middle" fill="#000" stroke="#000" stroke-width="0.2">Frequency (lp/cm)</text>
<text class="ser" transform="translate(356.9,77.3) rotate(-90)" x="0" y="0" font-size="11.1" text-anchor="middle" fill="#000" stroke="#000" stroke-width="0.2">NPS</text>
<rect x="462.6" y="30.6" width="41.8" height="23.2" rx="1.5" fill="#fff" fill-opacity="0.8" stroke="#e4e4e4" stroke-width="0.7"/>
<line x1="464.3" y1="36.4" x2="480.0" y2="36.4" stroke="#1f77b4" stroke-width="1.2"/>
<line x1="464.3" y1="46.8" x2="480.0" y2="46.8" stroke="#ff7f0e" stroke-width="1.2"/>
<text class="san" x="485.1" y="38.9" font-size="7.9" fill="#222" stroke="#222" stroke-width="0.18" textLength="12.7" lengthAdjust="spacingAndGlyphs">FBP</text>
<text class="san" x="485.1" y="49.3" font-size="7.9" fill="#222" stroke="#222" stroke-width="0.18" textLength="16.0" lengthAdjust="spacingAndGlyphs">Ours</text>
<clipPath id="c12"><rect x="375.3" y="155.4" width="132.2" height="98.0"/></clipPath>
<g clip-path="url(#c12)">
<polyline points="375.2,159.4 379.0,166.0 382.0,175.0 385.4,185.0 388.6,186.0 392.0,191.0 395.4,202.6 399.0,201.2 403.0,202.8 406.4,205.4 409.2,206.2 413.0,214.0 416.0,218.0 419.4,214.6 423.0,217.0 426.0,220.0 430.0,221.6 433.0,225.0 437.0,229.0 441.0,231.0 445.0,235.0 449.0,237.0 453.0,239.0 457.0,241.0 461.0,243.0 465.0,243.6 471.0,245.0 477.0,246.4 485.0,247.6 495.0,248.4 508.0,248.6" fill="none" stroke="#1f77b4" stroke-width="1.3" stroke-linejoin="round" stroke-linecap="butt"/>
<polyline points="375.2,172.0 378.6,179.0 382.0,191.0 386.0,199.6 389.0,204.4 393.0,209.0 398.0,212.4 402.6,218.4 408.0,222.4 413.0,225.6 420.0,230.0 426.0,232.0 433.0,237.0 441.0,239.6 449.0,242.6 457.0,245.0 467.0,246.6 477.0,247.6 489.0,248.4 508.0,249.0" fill="none" stroke="#ff7f0e" stroke-width="1.3" stroke-linejoin="round" stroke-linecap="butt"/>
</g>
<rect x="375.3" y="155.4" width="132.2" height="98.0" fill="none" stroke="#9a9a9a" stroke-width="0.9"/>
<line x1="375.3" y1="253.4" x2="375.3" y2="255.0" stroke="#9a9a9a" stroke-width="0.7"/>
<text class="san" x="375.3" y="262.0" font-size="8.2" text-anchor="middle" fill="#2a2a2a" stroke="#2a2a2a" stroke-width="0.06" textLength="4.25" lengthAdjust="spacingAndGlyphs">0</text>
<line x1="401.7" y1="253.4" x2="401.7" y2="255.0" stroke="#9a9a9a" stroke-width="0.7"/>
<text class="san" x="401.7" y="262.0" font-size="8.2" text-anchor="middle" fill="#2a2a2a" stroke="#2a2a2a" stroke-width="0.06" textLength="8.80" lengthAdjust="spacingAndGlyphs">10</text>
<line x1="428.2" y1="253.4" x2="428.2" y2="255.0" stroke="#9a9a9a" stroke-width="0.7"/>
<text class="san" x="428.2" y="262.0" font-size="8.2" text-anchor="middle" fill="#2a2a2a" stroke="#2a2a2a" stroke-width="0.06" textLength="8.80" lengthAdjust="spacingAndGlyphs">20</text>
<line x1="454.6" y1="253.4" x2="454.6" y2="255.0" stroke="#9a9a9a" stroke-width="0.7"/>
<text class="san" x="454.6" y="262.0" font-size="8.2" text-anchor="middle" fill="#2a2a2a" stroke="#2a2a2a" stroke-width="0.06" textLength="8.80" lengthAdjust="spacingAndGlyphs">30</text>
<line x1="481.1" y1="253.4" x2="481.1" y2="255.0" stroke="#9a9a9a" stroke-width="0.7"/>
<text class="san" x="481.1" y="262.0" font-size="8.2" text-anchor="middle" fill="#2a2a2a" stroke="#2a2a2a" stroke-width="0.06" textLength="8.80" lengthAdjust="spacingAndGlyphs">40</text>
<line x1="507.5" y1="253.4" x2="507.5" y2="255.0" stroke="#9a9a9a" stroke-width="0.7"/>
<text class="san" x="507.5" y="262.0" font-size="8.2" text-anchor="middle" fill="#2a2a2a" stroke="#2a2a2a" stroke-width="0.06" textLength="8.80" lengthAdjust="spacingAndGlyphs">50</text>
<line x1="374.3" y1="252.8" x2="375.3" y2="252.8" stroke="#9a9a9a" stroke-width="0.5"/>
<line x1="374.3" y1="251.3" x2="375.3" y2="251.3" stroke="#9a9a9a" stroke-width="0.5"/>
<line x1="374.3" y1="249.9" x2="375.3" y2="249.9" stroke="#9a9a9a" stroke-width="0.5"/>
<line x1="374.3" y1="248.8" x2="375.3" y2="248.8" stroke="#9a9a9a" stroke-width="0.5"/>
<line x1="373.7" y1="247.7" x2="375.3" y2="247.7" stroke="#9a9a9a" stroke-width="0.7"/>
<line x1="374.3" y1="240.8" x2="375.3" y2="240.8" stroke="#9a9a9a" stroke-width="0.5"/>
<line x1="374.3" y1="236.8" x2="375.3" y2="236.8" stroke="#9a9a9a" stroke-width="0.5"/>
<line x1="374.3" y1="233.9" x2="375.3" y2="233.9" stroke="#9a9a9a" stroke-width="0.5"/>
<line x1="374.3" y1="231.7" x2="375.3" y2="231.7" stroke="#9a9a9a" stroke-width="0.5"/>
<line x1="374.3" y1="229.8" x2="375.3" y2="229.8" stroke="#9a9a9a" stroke-width="0.5"/>
<line x1="374.3" y1="228.3" x2="375.3" y2="228.3" stroke="#9a9a9a" stroke-width="0.5"/>
<line x1="374.3" y1="227.0" x2="375.3" y2="227.0" stroke="#9a9a9a" stroke-width="0.5"/>
<line x1="374.3" y1="225.8" x2="375.3" y2="225.8" stroke="#9a9a9a" stroke-width="0.5"/>
<line x1="373.7" y1="224.8" x2="375.3" y2="224.8" stroke="#9a9a9a" stroke-width="0.7"/>
<line x1="374.3" y1="217.8" x2="375.3" y2="217.8" stroke="#9a9a9a" stroke-width="0.5"/>
<line x1="374.3" y1="213.8" x2="375.3" y2="213.8" stroke="#9a9a9a" stroke-width="0.5"/>
<line x1="374.3" y1="210.9" x2="375.3" y2="210.9" stroke="#9a9a9a" stroke-width="0.5"/>
<line x1="374.3" y1="208.7" x2="375.3" y2="208.7" stroke="#9a9a9a" stroke-width="0.5"/>
<line x1="374.3" y1="206.9" x2="375.3" y2="206.9" stroke="#9a9a9a" stroke-width="0.5"/>
<line x1="374.3" y1="205.4" x2="375.3" y2="205.4" stroke="#9a9a9a" stroke-width="0.5"/>
<line x1="374.3" y1="204.0" x2="375.3" y2="204.0" stroke="#9a9a9a" stroke-width="0.5"/>
<line x1="374.3" y1="202.9" x2="375.3" y2="202.9" stroke="#9a9a9a" stroke-width="0.5"/>
<line x1="373.7" y1="201.8" x2="375.3" y2="201.8" stroke="#9a9a9a" stroke-width="0.7"/>
<line x1="374.3" y1="194.9" x2="375.3" y2="194.9" stroke="#9a9a9a" stroke-width="0.5"/>
<line x1="374.3" y1="190.9" x2="375.3" y2="190.9" stroke="#9a9a9a" stroke-width="0.5"/>
<line x1="374.3" y1="188.0" x2="375.3" y2="188.0" stroke="#9a9a9a" stroke-width="0.5"/>
<line x1="374.3" y1="185.8" x2="375.3" y2="185.8" stroke="#9a9a9a" stroke-width="0.5"/>
<line x1="374.3" y1="183.9" x2="375.3" y2="183.9" stroke="#9a9a9a" stroke-width="0.5"/>
<line x1="374.3" y1="182.4" x2="375.3" y2="182.4" stroke="#9a9a9a" stroke-width="0.5"/>
<line x1="374.3" y1="181.1" x2="375.3" y2="181.1" stroke="#9a9a9a" stroke-width="0.5"/>
<line x1="374.3" y1="179.9" x2="375.3" y2="179.9" stroke="#9a9a9a" stroke-width="0.5"/>
<line x1="373.7" y1="178.8" x2="375.3" y2="178.8" stroke="#9a9a9a" stroke-width="0.7"/>
<line x1="374.3" y1="171.9" x2="375.3" y2="171.9" stroke="#9a9a9a" stroke-width="0.5"/>
<line x1="374.3" y1="167.9" x2="375.3" y2="167.9" stroke="#9a9a9a" stroke-width="0.5"/>
<line x1="374.3" y1="165.0" x2="375.3" y2="165.0" stroke="#9a9a9a" stroke-width="0.5"/>
<line x1="374.3" y1="162.8" x2="375.3" y2="162.8" stroke="#9a9a9a" stroke-width="0.5"/>
<line x1="374.3" y1="161.0" x2="375.3" y2="161.0" stroke="#9a9a9a" stroke-width="0.5"/>
<line x1="374.3" y1="159.5" x2="375.3" y2="159.5" stroke="#9a9a9a" stroke-width="0.5"/>
<line x1="374.3" y1="158.1" x2="375.3" y2="158.1" stroke="#9a9a9a" stroke-width="0.5"/>
<line x1="374.3" y1="157.0" x2="375.3" y2="157.0" stroke="#9a9a9a" stroke-width="0.5"/>
<line x1="373.7" y1="155.9" x2="375.3" y2="155.9" stroke="#9a9a9a" stroke-width="0.7"/>
<text class="ser" transform="translate(373.00,158.80) scale(1.08,1)" font-size="8.2" text-anchor="end" fill="#222" stroke="#222" stroke-width="0.15">10<tspan font-size="5.8" dx="0.6" dy="-3.2" stroke-width="0.08">11</tspan></text>
<text class="ser" transform="translate(373.00,181.75) scale(1.08,1)" font-size="8.2" text-anchor="end" fill="#222" stroke="#222" stroke-width="0.15">10<tspan font-size="5.8" dx="0.6" dy="-3.2" stroke-width="0.08">10</tspan></text>
<text class="ser" transform="translate(373.00,204.70) scale(1.08,1)" font-size="8.2" text-anchor="end" fill="#222" stroke="#222" stroke-width="0.15">10<tspan font-size="5.8" dx="0.6" dy="-3.2" stroke-width="0.08">9</tspan></text>
<text class="ser" transform="translate(373.00,227.65) scale(1.08,1)" font-size="8.2" text-anchor="end" fill="#222" stroke="#222" stroke-width="0.15">10<tspan font-size="5.8" dx="0.6" dy="-3.2" stroke-width="0.08">8</tspan></text>
<text class="ser" transform="translate(373.00,250.60) scale(1.08,1)" font-size="8.2" text-anchor="end" fill="#222" stroke="#222" stroke-width="0.15">10<tspan font-size="5.8" dx="0.6" dy="-3.2" stroke-width="0.08">7</tspan></text>
<text class="ser" transform="translate(440.70,275.70) scale(0.9259,1)" font-size="11.77" text-anchor="middle" fill="#000" stroke="#000" stroke-width="0.2">Frequency (lp/cm)</text>
<text class="ser" transform="translate(356.9,200.5) rotate(-90)" x="0" y="0" font-size="11.1" text-anchor="middle" fill="#000" stroke="#000" stroke-width="0.2">NPS</text>
<rect x="462.6" y="158.6" width="41.8" height="23.2" rx="1.5" fill="#fff" fill-opacity="0.8" stroke="#e4e4e4" stroke-width="0.7"/>
<line x1="464.3" y1="164.4" x2="480.0" y2="164.4" stroke="#1f77b4" stroke-width="1.2"/>
<line x1="464.3" y1="174.8" x2="480.0" y2="174.8" stroke="#ff7f0e" stroke-width="1.2"/>
<text class="san" x="485.1" y="166.9" font-size="7.9" fill="#222" stroke="#222" stroke-width="0.18" textLength="12.7" lengthAdjust="spacingAndGlyphs">FBP</text>
<text class="san" x="485.1" y="177.3" font-size="7.9" fill="#222" stroke="#222" stroke-width="0.18" textLength="16.0" lengthAdjust="spacingAndGlyphs">Ours</text>
<text class="ser" transform="translate(612.75,19.00) scale(0.9091,1)" font-size="11.99" text-anchor="middle" fill="#000" font-weight="bold" stroke="#000" stroke-width="0.3">Fast MRI reconstruction</text>
<clipPath id="c03"><rect x="546.2" y="27.4" width="132.0" height="98.0"/></clipPath>
<g clip-path="url(#c03)">
<polyline points="546.2,31.4 550.0,36.0 554.0,43.0 558.0,51.0 563.0,58.6 567.0,61.0 571.0,67.0 575.0,72.0 577.0,75.0 581.0,78.0 586.0,80.4 590.0,83.0 594.0,86.4 598.0,89.0 603.0,92.0 608.0,93.0 612.0,95.0 616.0,97.6 620.0,100.0 624.0,100.6 630.0,102.0 636.0,103.4 641.0,106.0 646.0,108.4 650.0,108.6 654.0,108.6 659.0,109.6 663.6,109.0 668.0,110.4 678.5,110.4" fill="none" stroke="#1f77b4" stroke-width="1.3" stroke-linejoin="round" stroke-linecap="butt"/>
<polyline points="546.2,79.4 550.0,77.4 554.0,82.0 559.0,86.6 564.0,88.0 568.0,87.6 572.0,89.6 577.0,95.0 581.0,96.4 585.0,97.6 591.0,101.0 597.0,104.4 603.0,107.0 608.0,108.0 613.0,109.6 617.0,111.0 621.0,112.6 626.0,113.6 632.0,115.0 637.0,116.4 641.0,118.0 646.0,119.6 651.0,120.4 656.0,120.6 660.0,120.4 664.0,119.4 668.0,119.6 672.0,119.8 678.5,119.6" fill="none" stroke="#ff7f0e" stroke-width="1.3" stroke-linejoin="round" stroke-linecap="butt"/>
</g>
<rect x="546.2" y="27.4" width="132.0" height="98.0" fill="none" stroke="#9a9a9a" stroke-width="0.9"/>
<line x1="546.2" y1="125.4" x2="546.2" y2="127.0" stroke="#9a9a9a" stroke-width="0.7"/>
<text class="san" x="546.2" y="134.0" font-size="8.2" text-anchor="middle" fill="#2a2a2a" stroke="#2a2a2a" stroke-width="0.06" textLength="4.25" lengthAdjust="spacingAndGlyphs">0</text>
<line x1="565.1" y1="125.4" x2="565.1" y2="127.0" stroke="#9a9a9a" stroke-width="0.7"/>
<text class="san" x="565.1" y="134.0" font-size="8.2" text-anchor="middle" fill="#2a2a2a" stroke="#2a2a2a" stroke-width="0.06" textLength="8.80" lengthAdjust="spacingAndGlyphs">10</text>
<line x1="583.9" y1="125.4" x2="583.9" y2="127.0" stroke="#9a9a9a" stroke-width="0.7"/>
<text class="san" x="583.9" y="134.0" font-size="8.2" text-anchor="middle" fill="#2a2a2a" stroke="#2a2a2a" stroke-width="0.06" textLength="8.80" lengthAdjust="spacingAndGlyphs">20</text>
<line x1="602.8" y1="125.4" x2="602.8" y2="127.0" stroke="#9a9a9a" stroke-width="0.7"/>
<text class="san" x="602.8" y="134.0" font-size="8.2" text-anchor="middle" fill="#2a2a2a" stroke="#2a2a2a" stroke-width="0.06" textLength="8.80" lengthAdjust="spacingAndGlyphs">30</text>
<line x1="621.6" y1="125.4" x2="621.6" y2="127.0" stroke="#9a9a9a" stroke-width="0.7"/>
<text class="san" x="621.6" y="134.0" font-size="8.2" text-anchor="middle" fill="#2a2a2a" stroke="#2a2a2a" stroke-width="0.06" textLength="8.80" lengthAdjust="spacingAndGlyphs">40</text>
<line x1="640.5" y1="125.4" x2="640.5" y2="127.0" stroke="#9a9a9a" stroke-width="0.7"/>
<text class="san" x="640.5" y="134.0" font-size="8.2" text-anchor="middle" fill="#2a2a2a" stroke="#2a2a2a" stroke-width="0.06" textLength="8.80" lengthAdjust="spacingAndGlyphs">50</text>
<line x1="659.4" y1="125.4" x2="659.4" y2="127.0" stroke="#9a9a9a" stroke-width="0.7"/>
<text class="san" x="659.4" y="134.0" font-size="8.2" text-anchor="middle" fill="#2a2a2a" stroke="#2a2a2a" stroke-width="0.06" textLength="8.80" lengthAdjust="spacingAndGlyphs">60</text>
<line x1="678.2" y1="125.4" x2="678.2" y2="127.0" stroke="#9a9a9a" stroke-width="0.7"/>
<text class="san" x="678.2" y="134.0" font-size="8.2" text-anchor="middle" fill="#2a2a2a" stroke="#2a2a2a" stroke-width="0.06" textLength="8.80" lengthAdjust="spacingAndGlyphs">70</text>
<line x1="545.2" y1="125.0" x2="546.2" y2="125.0" stroke="#9a9a9a" stroke-width="0.5"/>
<line x1="545.2" y1="120.9" x2="546.2" y2="120.9" stroke="#9a9a9a" stroke-width="0.5"/>
<line x1="545.2" y1="117.7" x2="546.2" y2="117.7" stroke="#9a9a9a" stroke-width="0.5"/>
<line x1="545.2" y1="115.0" x2="546.2" y2="115.0" stroke="#9a9a9a" stroke-width="0.5"/>
<line x1="545.2" y1="112.8" x2="546.2" y2="112.8" stroke="#9a9a9a" stroke-width="0.5"/>
<line x1="545.2" y1="110.9" x2="546.2" y2="110.9" stroke="#9a9a9a" stroke-width="0.5"/>
<line x1="545.2" y1="109.2" x2="546.2" y2="109.2" stroke="#9a9a9a" stroke-width="0.5"/>
<line x1="544.6" y1="107.7" x2="546.2" y2="107.7" stroke="#9a9a9a" stroke-width="0.7"/>
<line x1="545.2" y1="97.7" x2="546.2" y2="97.7" stroke="#9a9a9a" stroke-width="0.5"/>
<line x1="545.2" y1="91.9" x2="546.2" y2="91.9" stroke="#9a9a9a" stroke-width="0.5"/>
<line x1="545.2" y1="87.8" x2="546.2" y2="87.8" stroke="#9a9a9a" stroke-width="0.5"/>
<line x1="545.2" y1="84.6" x2="546.2" y2="84.6" stroke="#9a9a9a" stroke-width="0.5"/>
<line x1="545.2" y1="81.9" x2="546.2" y2="81.9" stroke="#9a9a9a" stroke-width="0.5"/>
<line x1="545.2" y1="79.7" x2="546.2" y2="79.7" stroke="#9a9a9a" stroke-width="0.5"/>
<line x1="545.2" y1="77.8" x2="546.2" y2="77.8" stroke="#9a9a9a" stroke-width="0.5"/>
<line x1="545.2" y1="76.1" x2="546.2" y2="76.1" stroke="#9a9a9a" stroke-width="0.5"/>
<line x1="544.6" y1="74.6" x2="546.2" y2="74.6" stroke="#9a9a9a" stroke-width="0.7"/>
<line x1="545.2" y1="64.6" x2="546.2" y2="64.6" stroke="#9a9a9a" stroke-width="0.5"/>
<line x1="545.2" y1="58.8" x2="546.2" y2="58.8" stroke="#9a9a9a" stroke-width="0.5"/>
<line x1="545.2" y1="54.7" x2="546.2" y2="54.7" stroke="#9a9a9a" stroke-width="0.5"/>
<line x1="545.2" y1="51.5" x2="546.2" y2="51.5" stroke="#9a9a9a" stroke-width="0.5"/>
<line x1="545.2" y1="48.8" x2="546.2" y2="48.8" stroke="#9a9a9a" stroke-width="0.5"/>
<line x1="545.2" y1="46.6" x2="546.2" y2="46.6" stroke="#9a9a9a" stroke-width="0.5"/>
<line x1="545.2" y1="44.7" x2="546.2" y2="44.7" stroke="#9a9a9a" stroke-width="0.5"/>
<line x1="545.2" y1="43.0" x2="546.2" y2="43.0" stroke="#9a9a9a" stroke-width="0.5"/>
<line x1="544.6" y1="41.5" x2="546.2" y2="41.5" stroke="#9a9a9a" stroke-width="0.7"/>
<line x1="545.2" y1="31.5" x2="546.2" y2="31.5" stroke="#9a9a9a" stroke-width="0.5"/>
<text class="ser" transform="translate(543.90,44.40) scale(1.08,1)" font-size="8.2" text-anchor="end" fill="#222" stroke="#222" stroke-width="0.15">10<tspan font-size="5.8" dx="0.6" dy="-3.2" stroke-width="0.08">2</tspan></text>
<text class="ser" transform="translate(543.90,77.50) scale(1.08,1)" font-size="8.2" text-anchor="end" fill="#222" stroke="#222" stroke-width="0.15">10<tspan font-size="5.8" dx="0.6" dy="-3.2" stroke-width="0.08">1</tspan></text>
<text class="ser" transform="translate(543.90,110.60) scale(1.08,1)" font-size="8.2" text-anchor="end" fill="#222" stroke="#222" stroke-width="0.15">10<tspan font-size="5.8" dx="0.6" dy="-3.2" stroke-width="0.08">0</tspan></text>
<text class="ser" transform="translate(615.70,145.60) scale(0.9259,1)" font-size="11.77" text-anchor="middle" fill="#000" stroke="#000" stroke-width="0.2">Frequency (lp/cm)</text>
<text class="ser" transform="translate(527.8,77.3) rotate(-90)" x="0" y="0" font-size="11.1" text-anchor="middle" fill="#000" stroke="#000" stroke-width="0.2">NPS</text>
<rect x="633.2" y="30.6" width="41.4" height="23.2" rx="1.5" fill="#fff" fill-opacity="0.8" stroke="#e4e4e4" stroke-width="0.7"/>
<line x1="634.9000000000001" y1="36.4" x2="650.6" y2="36.4" stroke="#1f77b4" stroke-width="1.2"/>
<line x1="634.9000000000001" y1="46.8" x2="650.6" y2="46.8" stroke="#ff7f0e" stroke-width="1.2"/>
<text class="san" x="655.7" y="38.9" font-size="7.9" fill="#222" stroke="#222" stroke-width="0.18" textLength="8.6" lengthAdjust="spacingAndGlyphs">ZF</text>
<text class="san" x="655.7" y="49.3" font-size="7.9" fill="#222" stroke="#222" stroke-width="0.18" textLength="16.0" lengthAdjust="spacingAndGlyphs">Ours</text>
<clipPath id="c13"><rect x="546.2" y="155.4" width="132.0" height="98.0"/></clipPath>
<g clip-path="url(#c13)">
<polyline points="546.2,159.4 550.0,165.4 554.0,180.6 558.0,181.0 562.0,186.0 567.0,192.6 571.0,196.0 576.0,201.6 581.0,205.0 587.0,207.6 593.0,210.4 598.0,212.4 602.0,215.0 607.0,218.0 612.0,219.6 617.0,221.4 621.0,222.6 625.0,225.0 629.0,228.0 633.0,230.0 637.0,231.0 641.6,232.0 646.0,231.6 650.0,233.0 654.0,234.6 659.0,235.6 666.0,235.6 672.0,237.0 678.5,236.4" fill="none" stroke="#1f77b4" stroke-width="1.3" stroke-linejoin="round" stroke-linecap="butt"/>
<polyline points="546.2,212.4 550.0,214.4 556.0,216.6 563.0,219.4 567.0,219.4 572.0,223.0 576.0,226.0 581.0,225.4 585.0,227.4 590.0,230.0 594.0,230.6 599.0,232.6 604.0,234.0 608.0,235.6 613.0,237.0 617.0,239.0 623.0,240.0 628.0,243.0 633.0,244.4 637.0,245.4 642.0,246.0 647.0,245.6 652.0,247.0 658.0,249.0 662.0,248.4 667.0,247.2 672.0,248.0 678.5,246.4" fill="none" stroke="#ff7f0e" stroke-width="1.3" stroke-linejoin="round" stroke-linecap="butt"/>
</g>
<rect x="546.2" y="155.4" width="132.0" height="98.0" fill="none" stroke="#9a9a9a" stroke-width="0.9"/>
<line x1="546.2" y1="253.4" x2="546.2" y2="255.0" stroke="#9a9a9a" stroke-width="0.7"/>
<text class="san" x="546.2" y="262.0" font-size="8.2" text-anchor="middle" fill="#2a2a2a" stroke="#2a2a2a" stroke-width="0.06" textLength="4.25" lengthAdjust="spacingAndGlyphs">0</text>
<line x1="565.1" y1="253.4" x2="565.1" y2="255.0" stroke="#9a9a9a" stroke-width="0.7"/>
<text class="san" x="565.1" y="262.0" font-size="8.2" text-anchor="middle" fill="#2a2a2a" stroke="#2a2a2a" stroke-width="0.06" textLength="8.80" lengthAdjust="spacingAndGlyphs">10</text>
<line x1="583.9" y1="253.4" x2="583.9" y2="255.0" stroke="#9a9a9a" stroke-width="0.7"/>
<text class="san" x="583.9" y="262.0" font-size="8.2" text-anchor="middle" fill="#2a2a2a" stroke="#2a2a2a" stroke-width="0.06" textLength="8.80" lengthAdjust="spacingAndGlyphs">20</text>
<line x1="602.8" y1="253.4" x2="602.8" y2="255.0" stroke="#9a9a9a" stroke-width="0.7"/>
<text class="san" x="602.8" y="262.0" font-size="8.2" text-anchor="middle" fill="#2a2a2a" stroke="#2a2a2a" stroke-width="0.06" textLength="8.80" lengthAdjust="spacingAndGlyphs">30</text>
<line x1="621.6" y1="253.4" x2="621.6" y2="255.0" stroke="#9a9a9a" stroke-width="0.7"/>
<text class="san" x="621.6" y="262.0" font-size="8.2" text-anchor="middle" fill="#2a2a2a" stroke="#2a2a2a" stroke-width="0.06" textLength="8.80" lengthAdjust="spacingAndGlyphs">40</text>
<line x1="640.5" y1="253.4" x2="640.5" y2="255.0" stroke="#9a9a9a" stroke-width="0.7"/>
<text class="san" x="640.5" y="262.0" font-size="8.2" text-anchor="middle" fill="#2a2a2a" stroke="#2a2a2a" stroke-width="0.06" textLength="8.80" lengthAdjust="spacingAndGlyphs">50</text>
<line x1="659.4" y1="253.4" x2="659.4" y2="255.0" stroke="#9a9a9a" stroke-width="0.7"/>
<text class="san" x="659.4" y="262.0" font-size="8.2" text-anchor="middle" fill="#2a2a2a" stroke="#2a2a2a" stroke-width="0.06" textLength="8.80" lengthAdjust="spacingAndGlyphs">60</text>
<line x1="678.2" y1="253.4" x2="678.2" y2="255.0" stroke="#9a9a9a" stroke-width="0.7"/>
<text class="san" x="678.2" y="262.0" font-size="8.2" text-anchor="middle" fill="#2a2a2a" stroke="#2a2a2a" stroke-width="0.06" textLength="8.80" lengthAdjust="spacingAndGlyphs">70</text>
<line x1="545.2" y1="252.5" x2="546.2" y2="252.5" stroke="#9a9a9a" stroke-width="0.5"/>
<line x1="545.2" y1="246.9" x2="546.2" y2="246.9" stroke="#9a9a9a" stroke-width="0.5"/>
<line x1="545.2" y1="243.0" x2="546.2" y2="243.0" stroke="#9a9a9a" stroke-width="0.5"/>
<line x1="545.2" y1="240.0" x2="546.2" y2="240.0" stroke="#9a9a9a" stroke-width="0.5"/>
<line x1="545.2" y1="237.5" x2="546.2" y2="237.5" stroke="#9a9a9a" stroke-width="0.5"/>
<line x1="545.2" y1="235.4" x2="546.2" y2="235.4" stroke="#9a9a9a" stroke-width="0.5"/>
<line x1="545.2" y1="233.5" x2="546.2" y2="233.5" stroke="#9a9a9a" stroke-width="0.5"/>
<line x1="545.2" y1="231.9" x2="546.2" y2="231.9" stroke="#9a9a9a" stroke-width="0.5"/>
<line x1="544.6" y1="230.5" x2="546.2" y2="230.5" stroke="#9a9a9a" stroke-width="0.7"/>
<line x1="545.2" y1="221.0" x2="546.2" y2="221.0" stroke="#9a9a9a" stroke-width="0.5"/>
<line x1="545.2" y1="215.5" x2="546.2" y2="215.5" stroke="#9a9a9a" stroke-width="0.5"/>
<line x1="545.2" y1="211.6" x2="546.2" y2="211.6" stroke="#9a9a9a" stroke-width="0.5"/>
<line x1="545.2" y1="208.5" x2="546.2" y2="208.5" stroke="#9a9a9a" stroke-width="0.5"/>
<line x1="545.2" y1="206.0" x2="546.2" y2="206.0" stroke="#9a9a9a" stroke-width="0.5"/>
<line x1="545.2" y1="203.9" x2="546.2" y2="203.9" stroke="#9a9a9a" stroke-width="0.5"/>
<line x1="545.2" y1="202.1" x2="546.2" y2="202.1" stroke="#9a9a9a" stroke-width="0.5"/>
<line x1="545.2" y1="200.5" x2="546.2" y2="200.5" stroke="#9a9a9a" stroke-width="0.5"/>
<line x1="544.6" y1="199.0" x2="546.2" y2="199.0" stroke="#9a9a9a" stroke-width="0.7"/>
<line x1="545.2" y1="189.6" x2="546.2" y2="189.6" stroke="#9a9a9a" stroke-width="0.5"/>
<line x1="545.2" y1="184.0" x2="546.2" y2="184.0" stroke="#9a9a9a" stroke-width="0.5"/>
<line x1="545.2" y1="180.1" x2="546.2" y2="180.1" stroke="#9a9a9a" stroke-width="0.5"/>
<line x1="545.2" y1="177.1" x2="546.2" y2="177.1" stroke="#9a9a9a" stroke-width="0.5"/>
<line x1="545.2" y1="174.6" x2="546.2" y2="174.6" stroke="#9a9a9a" stroke-width="0.5"/>
<line x1="545.2" y1="172.5" x2="546.2" y2="172.5" stroke="#9a9a9a" stroke-width="0.5"/>
<line x1="545.2" y1="170.6" x2="546.2" y2="170.6" stroke="#9a9a9a" stroke-width="0.5"/>
<line x1="545.2" y1="169.0" x2="546.2" y2="169.0" stroke="#9a9a9a" stroke-width="0.5"/>
<line x1="544.6" y1="167.6" x2="546.2" y2="167.6" stroke="#9a9a9a" stroke-width="0.7"/>
<line x1="545.2" y1="158.1" x2="546.2" y2="158.1" stroke="#9a9a9a" stroke-width="0.5"/>
<text class="ser" transform="translate(543.90,170.50) scale(1.08,1)" font-size="8.2" text-anchor="end" fill="#222" stroke="#222" stroke-width="0.15">10<tspan font-size="5.8" dx="0.6" dy="-3.2" stroke-width="0.08">2</tspan></text>
<text class="ser" transform="translate(543.90,201.95) scale(1.08,1)" font-size="8.2" text-anchor="end" fill="#222" stroke="#222" stroke-width="0.15">10<tspan font-size="5.8" dx="0.6" dy="-3.2" stroke-width="0.08">1</tspan></text>
<text class="ser" transform="translate(543.90,233.40) scale(1.08,1)" font-size="8.2" text-anchor="end" fill="#222" stroke="#222" stroke-width="0.15">10<tspan font-size="5.8" dx="0.6" dy="-3.2" stroke-width="0.08">0</tspan></text>
<text class="ser" transform="translate(615.70,275.70) scale(0.9259,1)" font-size="11.77" text-anchor="middle" fill="#000" stroke="#000" stroke-width="0.2">Frequency (lp/cm)</text>
<text class="ser" transform="translate(527.8,200.5) rotate(-90)" x="0" y="0" font-size="11.1" text-anchor="middle" fill="#000" stroke="#000" stroke-width="0.2">NPS</text>
<rect x="633.2" y="158.6" width="41.4" height="23.2" rx="1.5" fill="#fff" fill-opacity="0.8" stroke="#e4e4e4" stroke-width="0.7"/>
<line x1="634.9000000000001" y1="164.4" x2="650.6" y2="164.4" stroke="#1f77b4" stroke-width="1.2"/>
<line x1="634.9000000000001" y1="174.8" x2="650.6" y2="174.8" stroke="#ff7f0e" stroke-width="1.2"/>
<text class="san" x="655.7" y="166.9" font-size="7.9" fill="#222" stroke="#222" stroke-width="0.18" textLength="8.6" lengthAdjust="spacingAndGlyphs">ZF</text>
<text class="san" x="655.7" y="177.3" font-size="7.9" fill="#222" stroke="#222" stroke-width="0.18" textLength="16.0" lengthAdjust="spacingAndGlyphs">Ours</text>
</g>
</svg></body></html>
